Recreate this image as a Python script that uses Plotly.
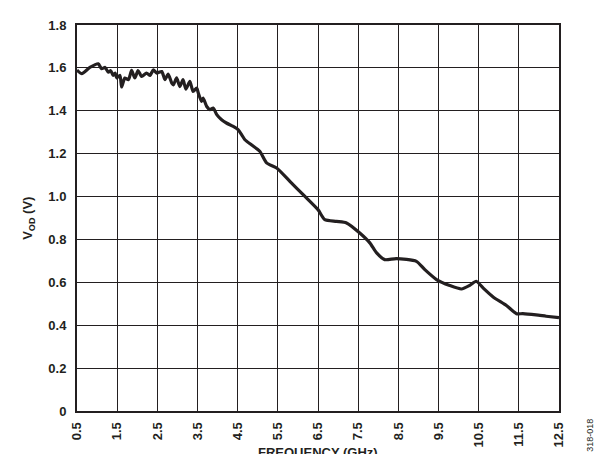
import plotly.graph_objects as go

freq_ghz = [0.5, 0.62, 0.82, 1.03, 1.11, 1.2, 1.28, 1.34, 1.40, 1.45, 1.49, 1.57, 1.61, 1.69, 1.78,
            1.86, 1.94, 2.02, 2.11, 2.23, 2.32, 2.40, 2.48, 2.61, 2.69, 2.77, 2.86, 2.90, 2.98, 3.06,
            3.14, 3.21, 3.31, 3.39, 3.48, 3.52, 3.60, 3.64, 3.73, 3.81, 3.89, 3.98, 4.10, 4.22, 4.39,
            4.51, 4.60, 4.68, 4.85, 5.05, 5.22, 5.47, 5.80, 6.13, 6.50, 6.67, 6.96, 7.21, 7.54, 7.79,
            7.96, 8.16, 8.45, 8.95, 9.16, 9.45, 9.78, 10.07, 10.28, 10.44, 10.61, 10.86, 11.19, 11.44,
            11.60, 11.93, 12.18, 12.5]
vod_v = [1.59, 1.573, 1.602, 1.619, 1.596, 1.602, 1.58, 1.587, 1.565, 1.576, 1.553, 1.565, 1.511, 1.553, 1.545,
         1.588, 1.553, 1.587, 1.56, 1.576, 1.565, 1.591, 1.576, 1.583, 1.545, 1.571, 1.529, 1.521, 1.553, 1.513,
         1.545, 1.501, 1.537, 1.49, 1.506, 1.483, 1.444, 1.459, 1.42, 1.405, 1.413, 1.382, 1.358, 1.343, 1.327,
         1.312, 1.288, 1.265, 1.24, 1.211, 1.157, 1.133, 1.071, 1.009, 0.939, 0.892, 0.884, 0.877, 0.830, 0.784,
         0.737, 0.706, 0.711, 0.698, 0.659, 0.613, 0.585, 0.569, 0.586, 0.605, 0.574, 0.532, 0.492, 0.454,
         0.454, 0.448, 0.442, 0.435]

x_ticks = [0.5, 1.5, 2.5, 3.5, 4.5, 5.5, 6.5, 7.5, 8.5, 9.5, 10.5, 11.5, 12.5]
y_ticks = [0, 0.2, 0.4, 0.6, 0.8, 1.0, 1.2, 1.4, 1.6, 1.8]
y_labels = ["0", "0.2", "0.4", "0.6", "0.8", "1.0", "1.2", "1.4", "1.6", "1.8"]

fig = go.Figure()
fig.add_trace(go.Scatter(x=freq_ghz, y=vod_v, mode="lines",
                         line=dict(color="#231f20", width=3.2, shape="spline", smoothing=0.6),
                         hoverinfo="skip"))

font = dict(family="Liberation Sans, Arial, sans-serif", size=13, color="#231f20")
fig.update_layout(
    width=600, height=454,
    margin=dict(l=77, r=41, t=25, b=43, autoexpand=False),
    paper_bgcolor="white", plot_bgcolor="white",
    showlegend=False,
    font=font,
    xaxis=dict(range=[0.5, 12.5], tickvals=x_ticks, ticktext=["<b>%s</b>" % v for v in x_ticks],
               tickangle=-90, showgrid=True, gridcolor="#231f20", gridwidth=1,
               showline=True, linecolor="#231f20", linewidth=2, mirror=True,
               zeroline=False, ticks="", ticklabelstandoff=4, automargin=False),
    yaxis=dict(range=[0, 1.8], tickvals=y_ticks, ticktext=["<b>%s</b>" % t for t in y_labels],
               showgrid=True, gridcolor="#231f20", gridwidth=1,
               showline=True, linecolor="#231f20", linewidth=2, mirror=True,
               zeroline=False, ticks="", ticklabelstandoff=6, automargin=False),
    annotations=[
        dict(text="<b>FREQUENCY (GHz)</b>", xref="paper", yref="paper", x=0.5, y=-0.108,
             xanchor="center", yanchor="middle", showarrow=False, font=font),
        dict(text="<b>V<sub>OD</sub> (V)</b>", xref="paper", yref="paper", x=-0.102, y=0.5,
             xanchor="center", yanchor="middle", textangle=-90, showarrow=False, font=font),
        dict(text="318-018", xref="paper", yref="paper", x=1.064, y=-0.062,
             xanchor="center", yanchor="middle", textangle=-90, showarrow=False,
             font=dict(family="Liberation Sans, Arial, sans-serif", size=9, color="#231f20")),
    ],
)

fig.write_html("out.html", config={"displayModeBar": False, "staticPlot": True},
               post_script="document.body.style.margin='0';document.body.style.overflow='hidden';")
